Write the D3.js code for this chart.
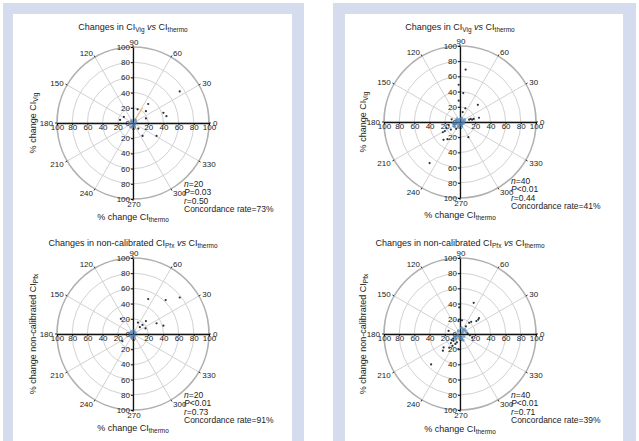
<!DOCTYPE html>
<html>
<head>
<meta charset="utf-8">
<script src="https://cdn.jsdelivr.net/npm/d3@7"></script>
<style>
  body { margin: 0; background: #fff; }
  svg { display: block; font-family: "Liberation Sans", Arial, sans-serif; }
</style>
</head>
<body>
<div class="container"></div>
<script>
"use strict";

var width = 639;
var height = 441;

// x = % change CI thermo, y = % change CI of the other method
var vigA = [[61.5, 41.6], [20, 25], [6, 18], [17, 15.6], [40, 13.4], [44, 9], [17, 6], [-12, 8],
    [-17, 4], [7, -7.4], [12.6, -17], [31, -17],
    [-3, -5], [3, 4], [-2, 3], [2, -2], [-4, -1], [4, 1], [1, -4], [-1, 1]];
var vigB = [[7.4, 69], [-1.7, 49], [4.3, 38], [-1.7, 28], [7, 18], [3.5, 13], [23.5, 22.6], [25, 5.6],
    [14, 4], [16, 3], [18, 4], [12, 3], [11, -20], [-11, 3.5], [-15, -4], [-18, -8], [-12, -10],
    [-8, -5], [-20, -12], [-22.6, -13.5], [-21.7, -23.5], [-16.5, -22.6], [-40, -54],
    [-5, 2], [-3, -3], [2, 5], [4, -2], [-6, -2], [-2, -7], [3, 2], [-4, 4], [1, -1], [6, 3],
    [-7, -6], [-9, -2], [-3, 0], [2, -4], [5, 0], [-1, 3], [-5, -9]];
var pfxA = [[61.5, 48], [43, 44.6], [20, 46], [-16, 20], [6.5, 15], [17, 17], [12.5, 12], [9, 9],
    [16.5, 7.4], [31, 14], [40, 11], [-14, -9.5],
    [-2, 3], [2, -2], [-3, -3], [3, 2], [-1, -5], [1, 4], [-4, 1], [0, -2]];
var pfxB = [[25, 21], [21.6, 17], [24, 19], [14.7, 16], [12, 14.7], [2.6, 18], [-2, 17], [7.8, 10],
    [4.3, 5], [13, -1.7], [16, -4.8], [-15, 4], [-8.7, -9], [-12, -12], [-10, -15.6], [-14, -18],
    [-21.6, -17.7], [-22.5, -22], [-2, -20], [-6, -7], [18, 41], [-38, -40], [-1, 35],
    [3, 2], [-3, -2], [5, -3], [-5, -5], [2, 8], [8, 3], [-4, -11], [-7, -3], [1, -6], [6, 6],
    [-9, -6], [10, 1], [-2, 4], [0, -3], [-6, -13], [4, -8], [-11, -8]];

// faint mean-angle line seen in the first plot: [angle, radius]
var meanLineA = [57, 24];

var statsA = ["n=20", "P=0.03", "r=0.50", "Concordance rate=73%"];
var statsB = ["n=40", "P<0.01", "r=0.44", "Concordance rate=41%"];
var statsC = ["n=20", "P<0.01", "r=0.73", "Concordance rate=91%"];
var statsD = ["n=40", "P<0.01", "r=0.71", "Concordance rate=39%"];

var ringValues = [20, 40, 60, 80];
var angleTicks = [0, 30, 60, 90, 120, 150, 180, 210, 240, 270, 300, 330];
var axisTicks = [-100, -80, -60, -40, -20, 0, 20, 40, 60, 80, 100];

var titleVig = [["Changes in CI"], ["Vig", "sub"], [" vs ", "i"], ["CI"], ["thermo", "sub"]];
var titlePfx = [["Changes in non-calibrated CI"], ["Pfx", "sub"], [" vs ", "i"], ["CI"], ["thermo", "sub"]];
var yLabVig = [["% change CI"], ["Vig", "sub"]];
var yLabPfx = [["% change non-calibrated CI"], ["Pfx", "sub"]];
var xLab = [["% change CI"], ["thermo", "sub"]];

var R = 76;
var frame = "#d4dcee";

var svg = d3.select(".container").append("svg")
    .attr("width", width)
    .attr("height", height);

// the two panels
[[3, 13, 292, 304], [333, 345, 623, 636]].forEach(function(p) {
    svg.append("rect").attr("x", p[0]).attr("y", 3)
        .attr("width", p[3] - p[0]).attr("height", height).attr("fill", frame);
    svg.append("rect").attr("x", p[1]).attr("y", 14)
        .attr("width", p[2] - p[1]).attr("height", height).attr("fill", "#fff");
});

var charts = [
    {cx: 133, cy: 123, title: titleVig, ylab: yLabVig, pts: vigA, stats: statsA, ty: 30, yx: 33, xy: 220, sy: 187, mean: meanLineA},
    {cx: 460, cy: 122, title: titleVig, ylab: yLabVig, pts: vigB, stats: statsB, ty: 30, yx: 363, xy: 218, sy: 184},
    {cx: 133, cy: 334, title: titlePfx, ylab: yLabPfx, pts: pfxA, stats: statsC, ty: 246, yx: 33, xy: 431, sy: 398},
    {cx: 460, cy: 334, title: titlePfx, ylab: yLabPfx, pts: pfxB, stats: statsD, ty: 246, yx: 363, xy: 432, sy: 398}
];

function rich(text, parts, size) {
    parts.forEach(function(p) {
        var t = text.append("tspan").text(p[0]);
        if (p[1] === "sub") {
            t.attr("font-size", size * 0.72).attr("baseline-shift", "-25%");
        } else if (p[1] === "i") {
            t.attr("font-style", "italic");
        }
    });
}

var rScale = d3.scaleLinear().domain([0, 100]).range([0, R]);
var rad = function(d) { return d * Math.PI / 180; };

charts.forEach(function(c) {
    var g = svg.append("g").attr("transform", "translate(" + c.cx + "," + c.cy + ")");
    var x = d3.scaleLinear().domain([-100, 100]).range([-R, R]);
    var y = d3.scaleLinear().domain([-100, 100]).range([R, -R]);

    // spokes
    g.selectAll(".spoke").data(angleTicks).enter().append("line")
        .attr("x2", function(d) { return rScale(100) * Math.cos(rad(d)); })
        .attr("y2", function(d) { return -rScale(100) * Math.sin(rad(d)); })
        .attr("stroke", "#d2d2d2").attr("stroke-width", 1);

    g.selectAll(".ring").data(ringValues).enter().append("circle")
        .attr("r", rScale).attr("fill", "none")
        .attr("stroke", "#d2d2d2").attr("stroke-width", 1);
    g.append("circle").attr("r", rScale(100)).attr("fill", "none")
        .attr("stroke", "#b0b0b0").attr("stroke-width", 1.7);

    // small marks on the outer ring
    g.selectAll(".amark").data(angleTicks).enter().append("line")
        .attr("x1", function(d) { return rScale(100) * Math.cos(rad(d)); })
        .attr("y1", function(d) { return -rScale(100) * Math.sin(rad(d)); })
        .attr("x2", function(d) { return (rScale(100) + 2) * Math.cos(rad(d)); })
        .attr("y2", function(d) { return -(rScale(100) + 2) * Math.sin(rad(d)); })
        .attr("stroke", "#333").attr("stroke-width", 1);

    // angle labels
    g.selectAll(".alab").data(angleTicks).enter().append("text")
        .attr("x", function(d) {
            var cs = Math.cos(rad(d));
            return (rScale(100) + 4) * cs + (Math.abs(cs) < 0.1 ? 1 : 0);
        })
        .attr("y", function(d) {
            return -(rScale(100) + 5) * Math.sin(rad(d)) + 3;
        })
        .attr("text-anchor", function(d) {
            var cs = Math.cos(rad(d));
            return cs > 0.1 ? "start" : (cs < -0.1 ? "end" : "middle");
        })
        .attr("font-size", 8).attr("fill", "#222")
        .text(function(d) { return d; });

    if (c.mean) {
        g.append("line")
            .attr("x2", rScale(c.mean[1]) * Math.cos(rad(c.mean[0])))
            .attr("y2", -rScale(c.mean[1]) * Math.sin(rad(c.mean[0])))
            .attr("stroke", "#f2b27a").attr("stroke-width", 1);
    }

    // axes
    var xa = g.append("g").call(d3.axisBottom(x).tickValues(axisTicks).tickSize(2).tickSizeOuter(0)
        .tickFormat(function(d) { return Math.abs(d); }));
    var ya = g.append("g").call(d3.axisLeft(y).tickValues(axisTicks).tickSize(2).tickSizeOuter(0)
        .tickFormat(function(d) { return Math.abs(d); }));
    [xa, ya].forEach(function(a) {
        a.attr("font-size", 8).attr("font-family", null);
        a.select(".domain").attr("stroke", "#111").attr("stroke-width", 1.3);
        a.selectAll(".tick line").attr("stroke", "#111");
        a.selectAll(".tick text").attr("fill", "#222");
    });
    xa.selectAll(".tick text").attr("dy", "0.6em").attr("y", 2);
    ya.selectAll(".tick text").attr("x", -3);

    // points
    var near = function(d) { return Math.hypot(d[0], d[1]) < 10; };
    g.selectAll(".pt").data(c.pts).enter().append("circle")
        .attr("cx", function(d) { return x(d[0]); })
        .attr("cy", function(d) { return y(d[1]); })
        .attr("r", function(d) { return near(d) ? 1.6 : 1.1; })
        .attr("fill", function(d) { return near(d) ? "#4a80b8" : "#2b3440"; })
        .attr("fill-opacity", function(d) { return near(d) ? 0.7 : 1; });

    // title and axis labels
    rich(svg.append("text").attr("x", c.cx).attr("y", c.ty).attr("text-anchor", "middle")
        .attr("font-size", 9).attr("fill", "#222"), c.title, 9);
    rich(svg.append("text").attr("x", c.cx).attr("y", c.xy).attr("text-anchor", "middle")
        .attr("font-size", 9).attr("fill", "#222"), xLab, 9);
    rich(svg.append("text").attr("transform", "translate(" + c.yx + "," + c.cy + ") rotate(-90)")
        .attr("text-anchor", "middle").attr("dy", "0.35em")
        .attr("font-size", 9).attr("fill", "#222"), c.ylab, 9);

    // statistics
    var st = svg.append("text").attr("font-size", 8.5).attr("fill", "#222");
    c.stats.forEach(function(s, i) {
        var t = st.append("tspan").attr("x", c.cx + 51).attr("y", c.sy + i * 8.4);
        if (i < 3) {
            t.append("tspan").attr("font-style", "italic").text(s[0]);
            t.append("tspan").text(s.slice(1));
        } else {
            t.text(s);
        }
    });
});
</script>
</body>
</html>
